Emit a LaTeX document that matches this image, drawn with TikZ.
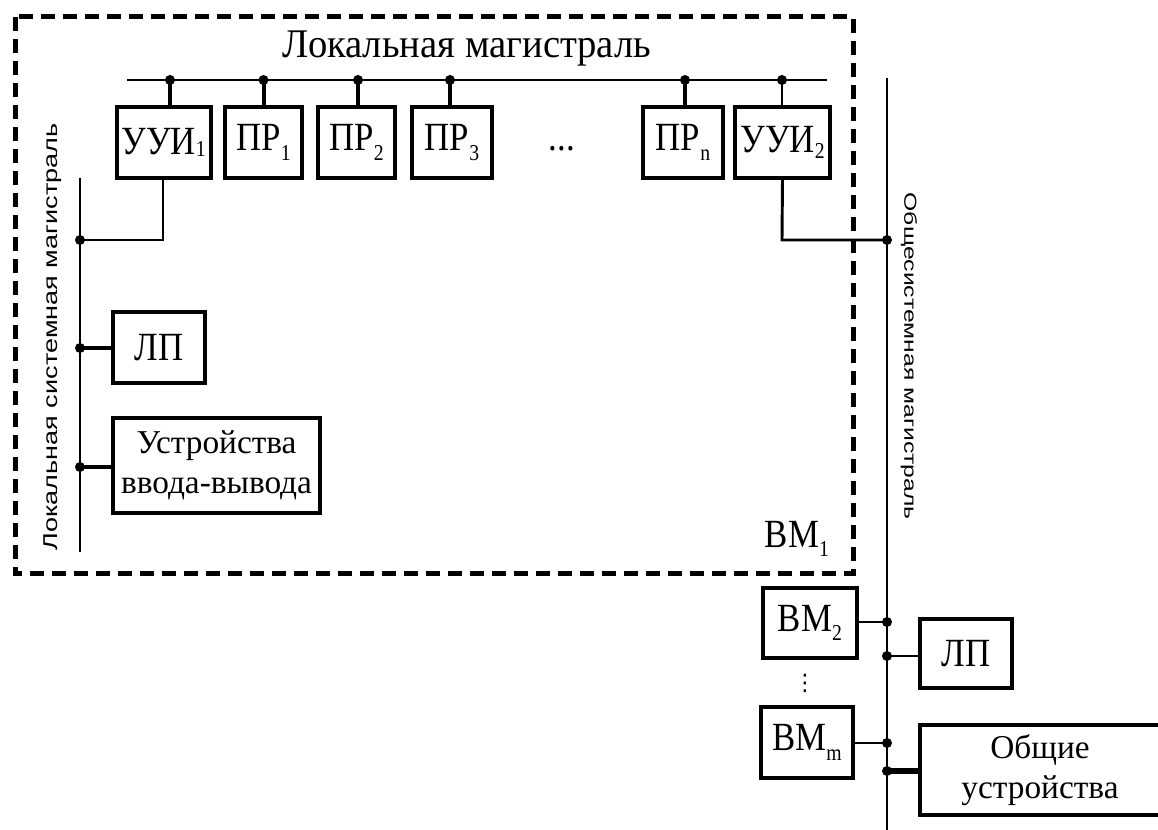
\documentclass[tikz,border=0pt]{standalone}
\usepackage{fontspec}
\usepackage{graphicx}
\setmainfont{Liberation Serif}
\newfontfamily\busfont{Liberation Sans}
\newfontfamily\symfont{DejaVu Sans}
\newfontfamily\boxfont{Liberation Serif}[FakeStretch=0.87]
\newfontfamily\headfont{Liberation Serif}[FakeStretch=0.95]
% lowered index after a box label: \idx[drop]{text}
\newcommand\idx[2][7pt]{\raisebox{-#1}{\fontsize{17}{17}\selectfont #2}}

\begin{document}
\begin{tikzpicture}[x=0.75pt,y=-0.75pt,
  box/.style={draw,line width=3pt,inner sep=0pt,align=center,
              font=\boxfont\fontsize{30}{32}\selectfont},
  wide/.style={font=\fontsize{25}{30}\selectfont},
  bus/.style={line width=1.5pt},
  tap/.style={line width=3pt},
  link/.style={line width=2.2pt},
  dot/.style={circle,fill,inner sep=0pt,minimum size=7.5pt},
  frame/.style={line width=3.75pt,dash pattern=on 10.5pt off 6pt},
  lbl/.style={font=\boxfont\fontsize{30}{32}\selectfont}
]
\useasboundingbox (0,0) rectangle (1158,830);

% computing module BM_1 boundary
\draw[frame] (15,17) rectangle (853,574);

% local bus
\node[font=\headfont\fontsize{30.5}{32}\selectfont] (title) at (467,49) {Локальная магистраль};
\coordinate (lbL) at (127,80);
\coordinate (lbR) at (827,80);
\draw[bus] (lbL) -- (lbR);

% processors and interface units
\node[box,minimum width=70.5pt,minimum height=53.25pt] (uui1) at (163.5,142.5) {УУИ\idx[2pt]{1}};
\node[box,minimum width=58pt,minimum height=53.25pt] (pr1) at (263.5,142.5) {ПР\idx{1}};
\node[box,minimum width=58pt,minimum height=53.25pt] (pr2) at (356.5,142.5) {ПР\idx{2}};
\node[box,minimum width=60pt,minimum height=53.25pt] (pr3) at (452,142.5) {ПР\idx{3}};
\node[lbl,anchor=base] (dots) at (562,151) {...};
\node[box,minimum width=60pt,minimum height=53.25pt] (prn) at (683,142.5) {ПР\idx[8pt]{n}};
\node[box,minimum width=71pt,minimum height=53.25pt] (uui2) at (782.5,142.5) {УУИ\idx[5pt]{2}};

% taps on the local bus
\node[dot] (t1) at (170,80) {};
\node[dot] (t2) at (263.5,80) {};
\node[dot] (t3) at (358,80) {};
\node[dot] (t4) at (450,80) {};
\node[dot] (t5) at (685,80) {};
\node[dot] (t6) at (782,80) {};
\draw[tap] (t1.center) -- (t1 |- uui1.north);
\draw[tap] (t2.center) -- (t2 |- pr1.north);
\draw[tap] (t3.center) -- (t3 |- pr2.north);
\draw[tap] (t4.center) -- (t4 |- pr3.north);
\draw[tap] (t5.center) -- (t5 |- prn.north);
\draw[link] (t6.center) -- (t6 |- uui2.north);

% local system bus
\coordinate (lsT) at (80,178);
\coordinate (lsB) at (80,552);
\draw[bus] (lsT) -- (lsB);
\node[rotate=90,font=\busfont\fontsize{15}{15}\selectfont] (lsname) at (53,337)
  {\resizebox{320pt}{\height}{Локальная системная магистраль}};

\node[box,minimum width=69pt,minimum height=53.25pt] (lp1) at (159,347.5) {ЛП};
\node[box,wide,minimum width=155pt,minimum height=71pt] (io) at (216.5,465.5) {Устройства\\ввода-вывода};

\node[dot] (s1) at (80,240) {};
\node[dot] (s2) at (80,348) {};
\node[dot] (s3) at (80,467) {};
\draw[link] (uui1.south -| 163,0) -- (163,240) -- (s1.center);
\draw[tap] (s2.center) -- (s2 -| lp1.west);
\draw[tap] (s3.center) -- (s3 -| io.west);

\node[lbl] (bm1) at (797,539) {BM\idx{1}};

% common system bus
\coordinate (csT) at (887,78);
\coordinate (csB) at (887,832);
\draw[bus] (csT) -- (csB);
\node[rotate=-90,font=\busfont\fontsize{13}{13}\selectfont] (csname) at (909,356)
  {\resizebox{245pt}{\height}{Общесистемная магистраль}};

\node[dot] (c1) at (887,240) {};
\draw[link] (uui2.south) -- (782,240) -- (c1.center);

% other computing modules and shared units
\node[box,minimum width=70.5pt,minimum height=52.5pt] (bm2) at (810,623) {BM\idx{2}};
\node[font=\symfont\fontsize{17}{17}\selectfont] (vd) at (805,683) {⋮};
\node[box,minimum width=69pt,minimum height=53.25pt] (bmm) at (807,742.5) {BM\idx[8pt]{m}};
\node[box,minimum width=69pt,minimum height=51.75pt] (lp2) at (966,653.5) {ЛП};
\node[box,wide,minimum width=180pt,minimum height=67.5pt] (shared) at (1040,770) {Общие\\устройства};

\node[dot] (c2) at (887,622) {};
\node[dot] (c3) at (887,656) {};
\node[dot] (c4) at (887,743) {};
\node[dot] (c5) at (887,771) {};
\draw[link] (bm2.east |- c2) -- (c2.center);
\draw[link] (c3.center) -- (c3 -| lp2.west);
\draw[link] (bmm.east |- c4) -- (c4.center);
\draw[tap,line width=4pt] (c5.center) -- (c5 -| shared.west);
\end{tikzpicture}
\end{document}
